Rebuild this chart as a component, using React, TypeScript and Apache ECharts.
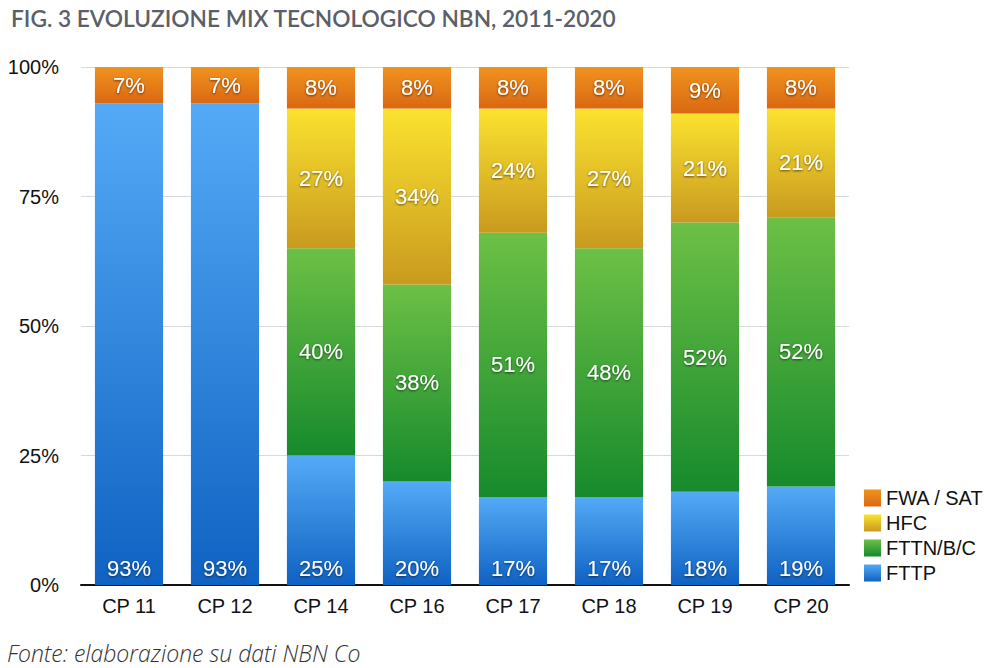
import React, { useEffect, useRef } from "react";
import * as echarts from "echarts";

const categories = ["CP 11", "CP 12", "CP 14", "CP 16", "CP 17", "CP 18", "CP 19", "CP 20"];
const fttp = [93, 93, 25, 20, 17, 17, 18, 19];
const fttn = [0, 0, 40, 38, 51, 48, 52, 52];
const hfc = [0, 0, 27, 34, 24, 27, 21, 21];
const fwa = [7, 7, 8, 8, 8, 8, 9, 8];
const yTicks = [0, 25, 50, 75, 100];
const legendOrder = ["FWA / SAT", "HFC", "FTTN/B/C", "FTTP"];

const grad = (top: string, bottom: string) =>
  new echarts.graphic.LinearGradient(0, 0, 0, 1, [
    { offset: 0, color: top },
    { offset: 1, color: bottom },
  ]);

export default function App() {
  const ref = useRef<HTMLDivElement>(null);
  useEffect(() => {
    if (!ref.current) return;
    const chart = echarts.init(ref.current, undefined, { renderer: "svg" });
    const labelBase = {
      show: true,
      color: "#ffffff",
      fontSize: 22,
      fontFamily: "Liberation Sans, Arial, sans-serif",
      textShadowColor: "rgba(0,0,0,0.6)",
      textShadowBlur: 2,
      textShadowOffsetY: 1,
      formatter: (p: any) => (p.value > 0 ? p.value + "%" : ""),
    };
    const mk = (name: string, data: number[], top: string, bottom: string, pos: string) => ({
      name,
      type: "bar",
      stack: "total",
      data,
      barCategoryGap: "29%",
      itemStyle: { color: grad(top, bottom) },
      label: { ...labelBase, position: pos, distance: 6 },
      emphasis: { disabled: true },
    });
    chart.setOption({
      animation: false,
      textStyle: { fontFamily: "Liberation Sans, Arial, sans-serif" },
      title: {
        text: "FIG. 3 EVOLUZIONE MIX TECNOLOGICO NBN, 2011-2020",
        left: 6,
        top: 2,
        textStyle: {
          fontFamily: "Lato, 'Open Sans', sans-serif",
          fontWeight: 600,
          fontSize: 22.7,
          color: "#5b6068",
        },
      },
      graphic: [
        {
          type: "text",
          left: 7,
          top: 641,
          style: {
            text: "Fonte: elaborazione su dati NBN Co",
            font: "italic 300 23px 'Open Sans', Lato, sans-serif",
            fill: "#333333",
          },
        },
      ],
      legend: {
        data: legendOrder,
        orient: "vertical",
        left: 859,
        top: 483,
        itemWidth: 17,
        itemHeight: 17,
        itemGap: 5,
        icon: "rect",
        textStyle: {
          fontSize: 20,
          color: "#111",
          fontFamily: "Liberation Sans, Arial, sans-serif",
        },
        selectedMode: false,
      },
      grid: { left: 81, right: 146, top: 67, bottom: 83, containLabel: false },
      xAxis: {
        type: "category",
        data: categories,
        axisLine: { lineStyle: { color: "#111", width: 2 } },
        axisTick: { show: false },
        axisLabel: { fontSize: 20, color: "#111", margin: 11 },
      },
      yAxis: {
        type: "value",
        min: yTicks[0],
        max: yTicks[yTicks.length - 1],
        interval: 25,
        axisLine: { show: false },
        axisTick: { show: false },
        axisLabel: { fontSize: 20, color: "#111", margin: 22, formatter: "{value}%" },
        splitLine: { lineStyle: { color: "#d9d9d9", width: 1 } },
      },
      series: [
        mk("FTTP", fttp, "#55aaf7", "#0f62c2", "insideBottom"),
        mk("FTTN/B/C", fttn, "#6dc046", "#178a2c", "inside"),
        mk("HFC", hfc, "#fbe22f", "#c99a1f", "inside"),
        mk("FWA / SAT", fwa, "#f0931f", "#da6812", "inside"),
      ],
    });
    return () => chart.dispose();
  }, []);
  return (
    <div
      ref={ref}
      style={{ position: "absolute", left: 0, top: 0, width: 995, height: 668, background: "#fff" }}
    />
  );
}
